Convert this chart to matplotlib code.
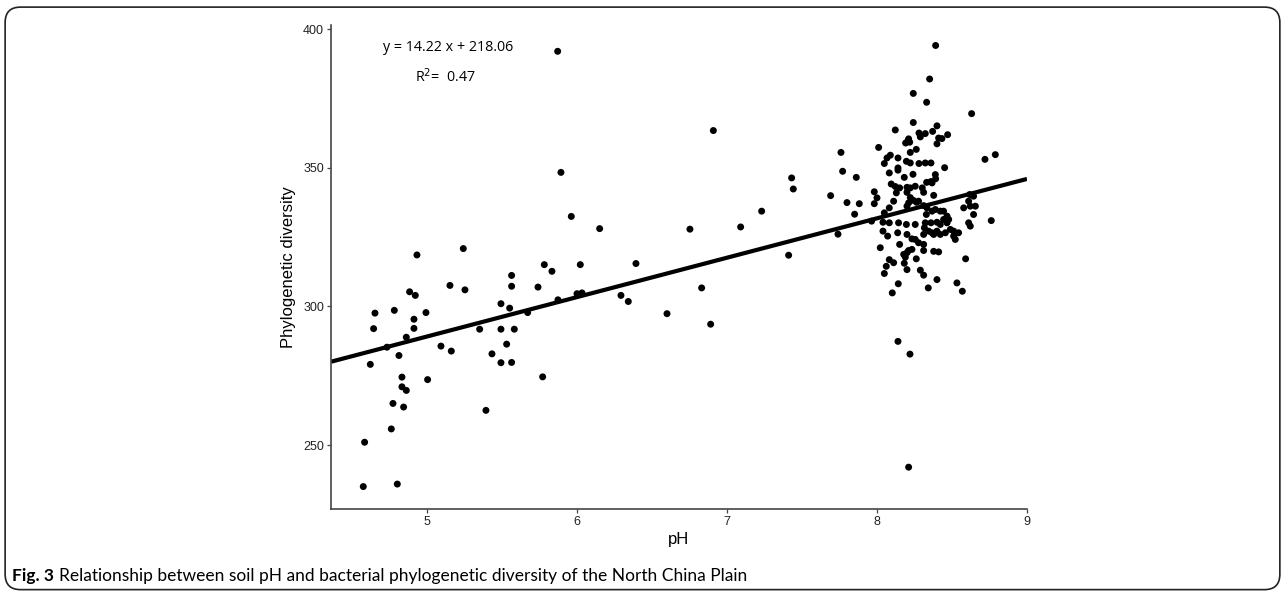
import matplotlib
matplotlib.use('Agg')
import matplotlib.pyplot as plt
from matplotlib.patches import FancyBboxPatch

# Soil pH (x) and phylogenetic diversity (y).
ph_acid = [4.575, 4.584, 4.622, 4.644, 4.653, 4.733, 4.762, 4.773, 4.782, 4.802,
           4.813, 4.833, 4.833, 4.844, 4.862, 4.862, 4.884, 4.913, 4.913, 4.922,
           4.933, 4.993, 5.004, 5.093, 5.153, 5.162, 5.242, 5.253, 5.351, 5.393,
           5.433, 5.493, 5.493, 5.493, 5.531, 5.551, 5.564, 5.564, 5.564, 5.582,
           5.671, 5.740, 5.771, 5.782, 5.833, 5.873, 5.871, 5.893, 5.962, 6.151,
           6.022, 6.000, 6.033, 6.393, 6.293, 6.342, 6.600, 6.753, 6.831, 6.891,
           6.909, 7.091, 7.231, 7.411, 7.431, 7.442, 7.691, 7.740, 7.760, 7.771,
           7.800, 7.862, 7.882, 7.851]
pd_acid = [235.0, 251.0, 279.1, 292.0, 297.6, 285.3, 255.8, 265.0, 298.6, 235.9,
           282.3, 274.5, 271.0, 263.7, 269.7, 288.9, 305.3, 295.4, 292.1, 304.0,
           318.6, 297.8, 273.6, 285.7, 307.6, 283.9, 320.9, 306.0, 291.8, 262.5,
           282.9, 301.0, 291.8, 279.7, 286.4, 299.4, 311.2, 307.3, 279.8, 291.8,
           297.8, 307.0, 274.6, 315.1, 312.7, 302.4, 392.1, 348.4, 332.5, 328.1,
           315.1, 304.6, 304.9, 315.5, 304.0, 301.8, 297.4, 327.9, 306.7, 293.6,
           363.5, 328.7, 334.4, 318.5, 346.4, 342.4, 340.0, 326.1, 355.6, 348.8,
           337.5, 346.6, 337.1, 333.3]

ph_alk = [8.391, 8.351, 8.242, 8.331, 8.631, 8.242, 8.122, 8.280, 8.322, 8.371,
          8.400, 8.471, 8.211, 8.289, 8.411, 8.433, 8.011, 8.207, 8.218, 8.400,
          8.262, 8.222, 8.089, 8.067, 8.140, 8.049, 8.196, 8.222, 8.280, 8.322,
          8.360, 8.140, 8.140, 8.451, 8.720, 8.789, 8.082, 8.240, 8.182, 8.389,
          8.391, 8.360, 8.331, 8.095, 8.122, 8.151, 8.200, 8.222, 8.255, 8.302,
          7.982, 8.000, 7.982, 8.129, 8.200, 8.222, 8.211, 8.264, 8.242, 8.111,
          8.082, 8.049, 8.040, 8.311, 8.378, 8.200, 8.277, 8.311, 8.333, 8.329,
          8.367, 8.389, 8.422, 8.444, 8.467, 8.478, 8.444, 8.467, 8.422, 8.400,
          8.360, 8.322, 8.316, 8.344, 8.367, 8.378, 8.400, 8.422, 8.456, 8.489,
          8.511, 8.511, 8.522, 8.544, 8.578, 8.611, 8.622, 8.656, 8.644, 8.611,
          8.622, 8.618, 8.644, 8.762, 8.255, 8.196, 8.144, 8.082, 8.255, 8.277,
          8.311, 8.311, 8.040, 8.071, 8.138, 8.200, 8.233, 8.151, 8.022, 8.211,
          8.233, 8.200, 8.178, 8.189, 8.311, 8.378, 8.411, 8.082, 8.111, 8.062,
          8.049, 8.262, 8.182, 8.200, 8.289, 8.311, 8.591, 8.400, 8.142, 8.102,
          8.342, 8.533, 8.569, 8.140, 8.220, 8.211, 8.191, 8.367, 7.964]
pd_alk = [394.2, 382.1, 376.9, 373.7, 369.6, 366.4, 363.7, 362.6, 362.4, 363.2,
          365.2, 362.0, 360.5, 361.2, 360.8, 360.6, 357.4, 359.9, 359.3, 358.7,
          356.7, 355.6, 354.6, 353.6, 353.6, 351.6, 352.4, 351.8, 351.6, 351.8,
          351.8, 350.0, 349.2, 350.1, 353.1, 354.8, 348.2, 347.7, 346.6, 347.6,
          346.1, 345.1, 344.8, 344.2, 343.3, 342.8, 343.0, 342.8, 343.4, 342.8,
          341.4, 339.2, 337.1, 341.0, 341.2, 339.3, 337.4, 337.6, 338.3, 338.0,
          335.6, 333.8, 330.4, 341.2, 340.1, 336.2, 338.0, 336.4, 335.6, 333.2,
          334.4, 335.0, 334.4, 334.4, 332.6, 331.4, 331.4, 330.2, 329.6, 330.4,
          330.2, 330.2, 328.4, 327.2, 326.6, 326.0, 327.2, 326.0, 326.6, 327.8,
          327.2, 325.4, 324.2, 326.6, 335.6, 338.0, 336.2, 336.2, 333.2, 330.2,
          329.0, 340.4, 339.8, 331.0, 329.6, 329.6, 330.2, 330.2, 324.2, 323.0,
          326.0, 322.4, 327.2, 325.4, 326.6, 326.0, 324.4, 322.4, 321.2, 320.2,
          320.6, 319.4, 318.8, 317.8, 320.2, 319.9, 319.7, 316.9, 315.8, 314.5,
          311.9, 317.2, 315.6, 313.3, 313.1, 311.3, 317.2, 309.7, 308.2, 304.9,
          306.7, 308.5, 305.5, 287.4, 282.8, 242.0, 359.0, 344.6, 330.8]

ph = ph_acid + ph_alk
pdiv = pd_acid + pd_alk

# Fitted line from the figure
slope = 14.22
intercept = 218.06
xlim = (4.36, 9.0)
ylim = (226.9, 401.6)

fig = plt.figure(figsize=(12.85, 5.92), dpi=100)
ax = fig.add_axes([0.2576, 0.1402, 0.5416, 0.8176])

ax.scatter(ph, pdiv, s=25, color='black', edgecolors='none', zorder=3)
ax.plot(xlim, [slope * x + intercept for x in xlim], color='black', lw=3, zorder=2,
        solid_capstyle='butt')

ax.set_xlim(xlim)
ax.set_ylim(ylim)
ax.set_xticks([5, 6, 7, 8, 9])
ax.set_yticks([250, 300, 350, 400])

for side in ['top', 'right']:
    ax.spines[side].set_visible(False)
for side in ['left', 'bottom']:
    ax.spines[side].set_color('#444444')
    ax.spines[side].set_linewidth(1.2)
ax.tick_params(length=3, width=0.9, color='#444444', labelsize=9,
               labelcolor='#222222', pad=2)
for lab in ax.get_xticklabels() + ax.get_yticklabels():
    lab.set_family('Liberation Sans')

ax.set_xlabel('pH', family='Liberation Sans', fontsize=12, labelpad=3)
ax.set_ylabel('Phylogenetic diversity', family='Liberation Sans', fontsize=12, labelpad=5)

# Regression equation
ax.text(5.142, 393.4, 'y = 14.22 x + 218.06', family='Open Sans', fontsize=10.3,
        ha='center', va='center')
ax.text(5.122, 382.9, r'R$^2$=  0.47', family='Open Sans', fontsize=10.3,
        ha='center', va='center')

# Caption
t1 = fig.text(0.0095, 0.019, 'Fig. 3', family='Lato', fontweight='bold', fontsize=12.5,
              va='baseline')
fig.canvas.draw()
bb = t1.get_window_extent()
x2 = (bb.x1 + 5) / fig.bbox.width
fig.text(x2, 0.019, 'Relationship between soil pH and bacterial phylogenetic diversity '
         'of the North China Plain', family='Lato', fontsize=12.5, va='baseline')

# Rounded frame around the figure
frame = FancyBboxPatch((0.004, 0.004), 0.992, 0.984, boxstyle='round,pad=0,rounding_size=0.012',
                       transform=fig.transFigure, fill=False, ec='#222222', lw=1.2,
                       mutation_aspect=1285 / 592)
fig.patches.append(frame)

fig.savefig('out.png', dpi=100)
